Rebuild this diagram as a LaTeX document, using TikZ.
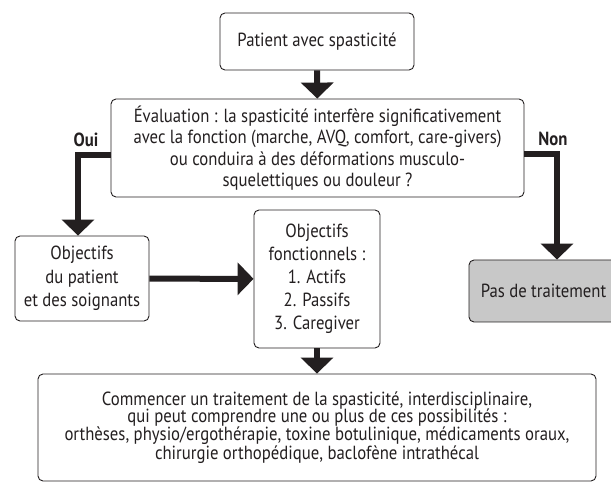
\documentclass[tikz,border=0pt]{standalone}
\usepackage{fontspec}
\setmainfont{PT Sans}[FakeStretch=0.88]
\usetikzlibrary{arrows.meta}
\definecolor{trait}{HTML}{231F20}
\definecolor{grisbox}{HTML}{C8C8C8}
\begin{document}
\begin{tikzpicture}[x=1pt,y=1pt,
    box/.style={draw=trait,line width=0.9pt,rounded corners=5pt,fill=white,
      align=center,inner sep=0pt,text=trait},
    fleche/.style={draw=trait,line width=6pt,
      -{Triangle[width=32pt,length=16pt]}},
    rep/.style={font={\fontsize{19}{20}\bfseries\selectfont},text=trait}]
          \useasboundingbox (0,0) rectangle (611,-489);
          \node[box,minimum width=194pt,minimum height=57pt,
            font={\fontsize{19}{21}\selectfont}] at (317,-41.5) (patient) {Patient avec spasticité};
          \node[box,minimum width=413pt,minimum height=98pt,
            font={\fontsize{19}{21.5}\selectfont}] at (317.5,-148) (eval)
            {Évaluation : la spasticité interfère significativement\\
             avec la fonction (marche, AVQ, comfort, care-givers)\\
             ou conduira à des déformations musculo-\\
             squelettiques ou douleur ?};
          \node[box,minimum width=134pt,minimum height=85pt,
            font={\fontsize{19}{23.5}\selectfont}] at (82,-278.5) (patobj)
            {Objectifs\\du patient\\et des soignants};
          \node[box,minimum width=126pt,minimum height=138pt,
            font={\fontsize{19}{23}\selectfont}] at (317,-279) (fonct)
            {Objectifs\\fonctionnels :\\1. Actifs\\2. Passifs\\3. Caregiver};
          \node[box,fill=grisbox,minimum width=149pt,minimum height=62pt,
            font={\fontsize{19}{21}\selectfont}] at (543.5,-291) (pastrait) {Pas de traitement};
          \node[box,minimum width=558pt,minimum height=107pt,
            font={\fontsize{19}{17.5}\selectfont}] at (317,-427.5) (traitement)
            {Commencer un traitement de la spasticité, interdisciplinaire,\\
             qui peut comprendre une ou plus de ces possibilités :\\
             orthèses, physio/ergothérapie, toxine botulinique, médicaments oraux,\\
             chirurgie orthopédique, baclofène intrathécal};
          \node[rep] at (86,-140) (oui) {Oui};
          \node[rep] at (553,-139) (non) {Non};
          \draw[fleche] (patient) -- (eval);
          \draw[fleche] ([yshift=-7pt]eval.west) -| ([xshift=-4pt]patobj.north);
          \draw[fleche] ([yshift=-6pt]eval.east) -| ([xshift=13.5pt]pastrait.north);
          \draw[fleche] (patobj) -- (fonct);
          \draw[fleche] (fonct) -- (traitement);
        \end{tikzpicture}
\end{document}
